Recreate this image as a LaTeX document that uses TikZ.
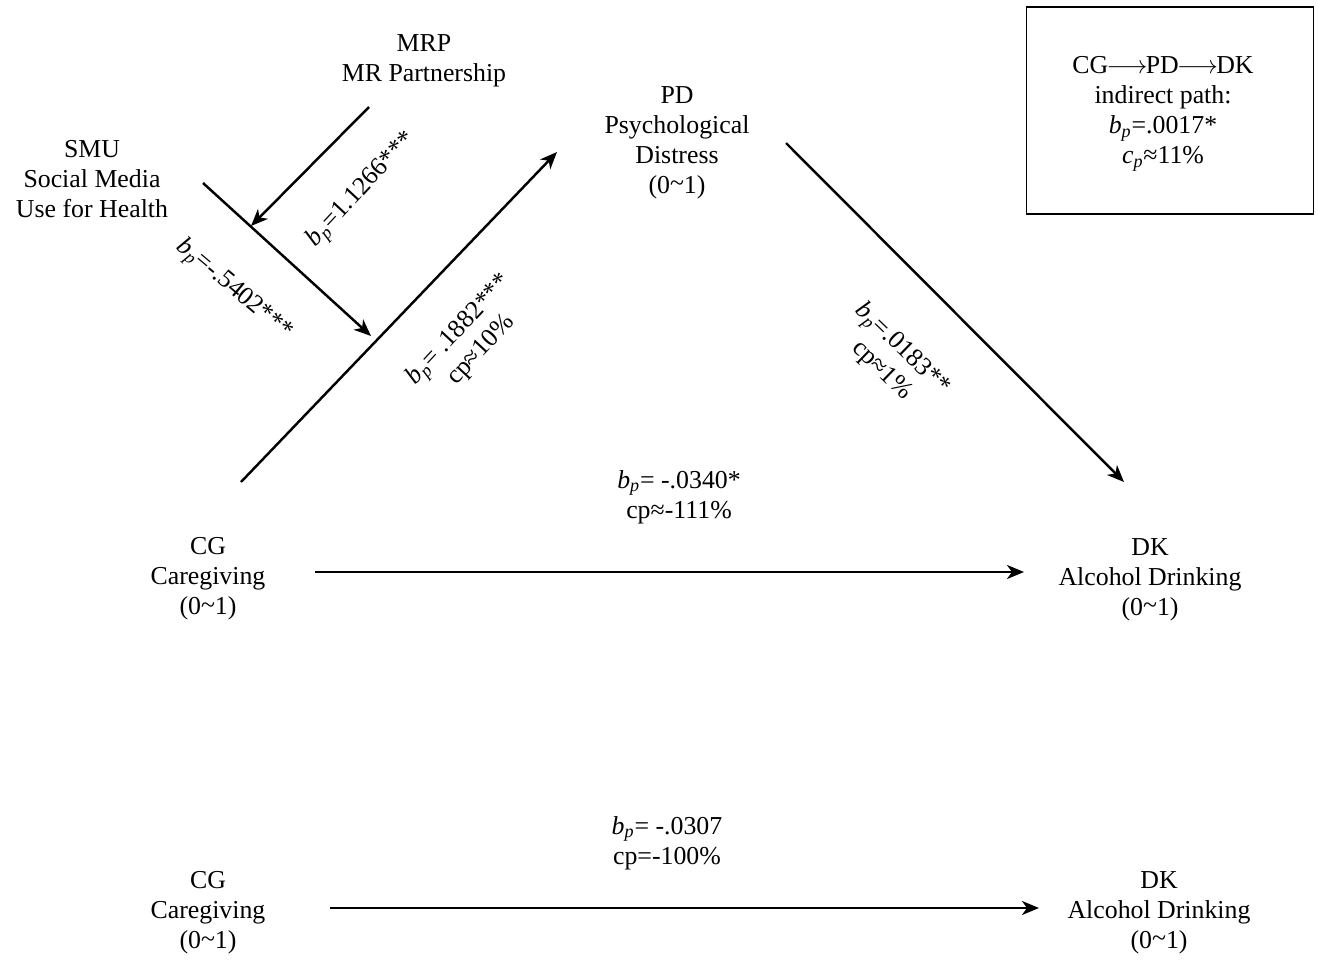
\documentclass[tikz,border=0pt]{standalone}
\usepackage{fontspec}
\setmainfont{Liberation Serif}
\usetikzlibrary{arrows.meta}
\newcommand\bpx{\textit{b}\textsubscript{\textit{p}}}
\newcommand\cpx{\textit{c}\textsubscript{\textit{p}}}
\newcommand\tld{\raisebox{0.15ex}{\textasciitilde}}
\newcommand\arr{\makebox[1.45em]{$\longrightarrow$}}
\begin{document}
\begin{tikzpicture}[x=0.02cm,y=-0.02cm,
  txt/.style={align=center,inner sep=0pt,font=\fontsize{14.7}{17.1}\selectfont},
  conn/.style={line width=1.4pt,-{Stealth[length=0.34cm,width=0.28cm,inset=0.1cm]}}]
\useasboundingbox (0,0) rectangle (1318,960);
% variable nodes
\node[txt] (mrp) at (424,61) {MRP\\MR Partnership};
\node[txt] (smu) at (92,179) {SMU\\Social Media\\Use for Health};
\node[txt] (pd) at (677,143) {PD\\Psychological\\Distress\\(0\tld1)};
\node[txt] (cg) at (208,579) {CG\\Caregiving\\(0\tld1)};
\node[txt] (dk) at (1150,580) {DK\\Alcohol Drinking\\(0\tld1)};
\node[txt] (cg2) at (208,913) {CG\\Caregiving\\(0\tld1)};
\node[txt] (dk2) at (1159,913) {DK\\Alcohol Drinking\\(0\tld1)};
% summary box
\node[draw,line width=0.6pt,minimum width=287*0.02cm,minimum height=207*0.02cm,inner sep=0pt] (box) at (1170,110.5) {};
\node[txt] (boxtxt) at (1163,114) {CG\arr PD\arr DK\\indirect path:\\\bpx=.0017*\\\cpx≈11\%};
% connector coordinates
\coordinate (cgA) at (241,482);
\coordinate (pdA) at (557,152);
\coordinate (smuA) at (203,183);
\coordinate (modA) at (371,336);
\coordinate (mrpA) at (369,107);
\coordinate (modB) at (251,226);
\coordinate (pdB) at (786,143);
\coordinate (dkA) at (1124,482);
\coordinate (cgB) at (315,572);
\coordinate (dkB) at (1024,572);
\coordinate (cgC) at (330,908);
\coordinate (dkC) at (1039,908);
% connectors
\draw[conn] (cgA) -- (pdA);
\draw[conn] (smuA) -- (modA);
\draw[conn] (mrpA) -- (modB);
\draw[conn] (pdB) -- (dkA);
\draw[conn] (cgB) -- (dkB);
\draw[conn] (cgC) -- (dkC);
% path labels
\node[txt,rotate=47] (l1) at (362,190) {\bpx=1.1266***};
\node[txt,rotate=-40] (l2) at (234,290) {\bpx =-.5402***};
\node[txt,rotate=47] (l3) at (470,340) {\bpx= .1882***\\cp≈10\%};
\node[txt,rotate=-44] (l4) at (892,360) {\bpx =.0183**\\cp≈1\%};
\node[txt] (l5) at (679,497) {\bpx = -.0340*\\cp≈-111\%};
\node[txt] (l6) at (667,843) {\bpx = -.0307\\cp=-100\%};
\end{tikzpicture}
\end{document}
